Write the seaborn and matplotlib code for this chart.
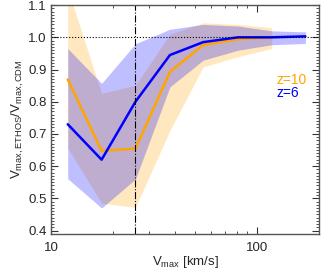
import numpy as np
import pandas as pd
import matplotlib
matplotlib.use("Agg")
import matplotlib.pyplot as plt
import seaborn as sns
from matplotlib.ticker import FixedLocator, MultipleLocator, NullFormatter

# z=6 (blue), eight bins
vmax_z6 = [12.05, 17.6, 25.7, 37.8, 54.8, 81.0, 118.0, 172.0]
med_z6 = [0.73, 0.62, 0.80, 0.945, 0.985, 1.0, 1.0, 1.003]
hi_z6 = [0.965, 0.857, 0.98, 1.025, 1.04, 1.035, 1.02, 1.017]
lo_z6 = [0.561, 0.47, 0.56, 0.846, 0.929, 0.96, 0.977, 0.981]

# z=10 (orange), seven bins
vmax_z10 = [12.05, 17.6, 25.7, 37.8, 54.8, 81.0, 118.0]
med_z10 = [0.869, 0.648, 0.654, 0.893, 0.976, 0.994, 1.0]
hi_z10 = [1.15, 0.826, 0.851, 1.01, 1.045, 1.04, 1.03]
lo_z10 = [0.656, 0.485, 0.472, 0.711, 0.908, 0.94, 0.965]

v_cut = 25.5

sns.set_style("ticks")
plt.rcParams["font.family"] = ["Liberation Sans", "DejaVu Sans"]
plt.rcParams["mathtext.fontset"] = "custom"
plt.rcParams["mathtext.rm"] = "Liberation Sans"
plt.rcParams["mathtext.it"] = "Liberation Sans"

df = pd.concat([
    pd.DataFrame({"vmax": vmax_z10, "ratio": med_z10, "z": "z=10"}),
    pd.DataFrame({"vmax": vmax_z6, "ratio": med_z6, "z": "z=6"}),
])
palette = {"z=10": "#FFA500", "z=6": "#0000FF"}

fig = plt.figure(figsize=(3.36, 2.69), dpi=100)
ax = fig.add_axes([0.152, 0.131, 0.797, 0.850])

ax.fill_between(vmax_z10, lo_z10, hi_z10, color="#FFA500", alpha=0.25, lw=0)
ax.fill_between(vmax_z6, lo_z6, hi_z6, color="#0000FF", alpha=0.25, lw=0)

sns.lineplot(data=df, x="vmax", y="ratio", hue="z", palette=palette,
             hue_order=["z=10", "z=6"], lw=1.8, legend=False, ax=ax,
             estimator=None, sort=False)

ax.axhline(1.0, color="black", ls=":", lw=0.8)
ax.axvline(v_cut, color="black", ls="-.", lw=0.8)

ax.set_xscale("log")
ax.set_xlim(10, 200)
ax.set_ylim(0.39, 1.1)

ax.xaxis.set_major_locator(FixedLocator([10, 100]))
ax.xaxis.set_minor_locator(FixedLocator([20, 30, 40, 50, 60, 70, 80, 90, 200]))
ax.xaxis.set_major_formatter(plt.FuncFormatter(lambda v, p: f"{v:g}"))
ax.xaxis.set_minor_formatter(NullFormatter())
ax.yaxis.set_major_locator(MultipleLocator(0.1))
ax.yaxis.set_minor_locator(MultipleLocator(0.01))
ax.yaxis.set_major_formatter(plt.FuncFormatter(lambda v, p: f"{v:.1f}"))

ax.tick_params(which="both", direction="in", top=True, right=True,
               color="#333333", labelsize=9.5)
ax.tick_params(which="major", length=5, width=0.8)
ax.tick_params(axis="x", which="major", pad=6)
ax.tick_params(axis="y", which="major", pad=3)
ax.tick_params(which="minor", length=2.5, width=0.6)
ax.tick_params(axis="y", which="minor", length=2)
for s in ax.spines.values():
    s.set_color("#555555")
    s.set_linewidth(1.0)

ax.set_xlabel(r"V$_{\rm max}$ [km/s]", fontsize=9.5, labelpad=0)
ax.set_ylabel(r"V$_{\rm max,ETHOS}$/V$_{\rm max,CDM}$", fontsize=9.5, labelpad=2)

ax.text(0.843, 0.655, "z=10", color="#FFA500", fontsize=10, transform=ax.transAxes)
ax.text(0.843, 0.600, "z=6", color="#0000FF", fontsize=10, transform=ax.transAxes)

fig.savefig("out.png", dpi=100)
